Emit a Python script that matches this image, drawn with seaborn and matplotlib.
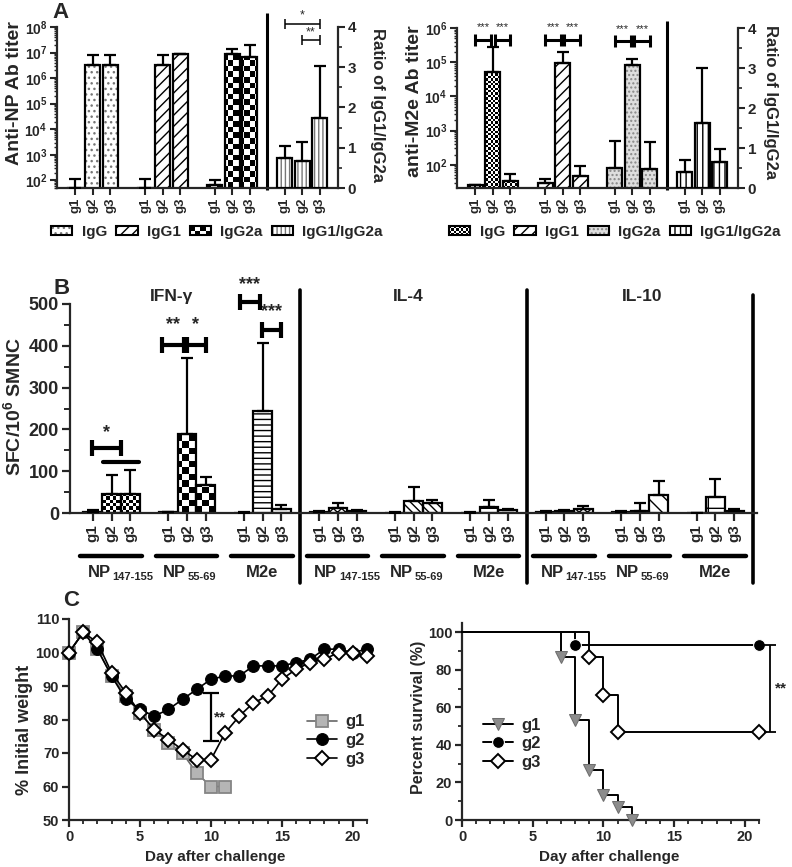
import numpy as np
import pandas as pd
import seaborn as sns
import matplotlib
matplotlib.use('Agg')
import matplotlib.pyplot as plt
from matplotlib.patches import Rectangle, Patch
from matplotlib.colors import ListedColormap
from matplotlib.legend_handler import HandlerBase
from matplotlib.ticker import MultipleLocator, LogLocator

# ---------------- data ----------------
groups = ['g1', 'g2', 'g3']

# A: anti-NP titers (IgG, IgG1, IgG2a x g1..g3) and IgG1/IgG2a ratio
np_pos = [0, 1, 2, 4, 5, 6, 8, 9, 10]
np_titer = [50, 3.4e6, 3.4e6, 50, 3.4e6, 9.1e6, 68, 9.0e6, 6.6e6]
np_titer_hi = [110, 8.2e6, 8.2e6, 110, 8.2e6, 9.1e6, 105, 1.4e7, 1.9e7]
ratio_pos = [12, 13, 14]
np_ratio = [0.75, 0.67, 1.75]
np_ratio_hi = [1.04, 1.15, 3.02]

# A: anti-M2e titers and ratio
m2e_titer = [26, 5.2e4, 33, 30, 9.5e4, 46, 80, 8.5e4, 77]
m2e_titer_hi = [26, 2.7e5, 55, 38, 1.95e5, 94, 500, 1.25e5, 480]
m2e_ratio = [0.41, 1.62, 0.65]
m2e_ratio_hi = [0.70, 3.0, 0.97]

# B: ELISPOT, 3 cytokines x 3 peptides x 3 groups
b_pos = list(range(0, 3)) + list(range(4, 7)) + list(range(8, 11)) + \
        list(range(12, 15)) + list(range(16, 19)) + list(range(20, 23)) + \
        list(range(24, 27)) + list(range(28, 31)) + list(range(32, 35))
sfc = [3, 46, 46, 2, 190, 68, 1, 245, 10,
       3, 11, 5, 1, 28, 24, 1, 15, 8,
       3, 5, 10, 3, 5, 44, 0, 38, 5]
sfc_hi = [7, 90, 103, 3, 372, 87, 2, 407, 18,
          5, 24, 7, 2, 63, 30, 2, 32, 10,
          5, 7, 17, 5, 25, 76, 0, 82, 10]
peptides = ['NP', 'NP', 'M2e'] * 3
peptide_sub = ['147-155', '55-69', ''] * 3
cytokines = ['IFN-γ', 'IL-4', 'IL-10']

# C: body weight (% initial) and survival
days = list(range(22))
w_g1 = [100, 106, 101, 93, 87, 82, 77, 73, 70, 64, 60, 60]
w_g2 = [100, 106, 101, 93, 86, 83, 81, 83, 86, 89, 92, 93, 93, 96, 96, 96, 97, 98, 101, 101, 100, 101]
w_g3 = [100, 106, 103, 94, 88, 82, 77, 74, 71, 68, 68, 76, 81, 85, 87, 92, 95, 97, 98, 100, 100, 99]
surv_g1_day = [0, 7, 8, 9, 10, 11, 12]
surv_g1 = [100, 86.7, 53.3, 26.7, 13.3, 6.7, 0]
surv_g2_day = [0, 8, 21]
surv_g2 = [100, 93.3, 93.3]
surv_g3_day = [0, 9, 10, 11, 21]
surv_g3 = [100, 86.7, 66.7, 46.7, 46.7]

# ---------------- style ----------------
sns.set_style("ticks")
plt.rcParams['font.family'] = ['Liberation Sans', 'DejaVu Sans']
plt.rcParams['font.weight'] = 'bold'
plt.rcParams['axes.labelweight'] = 'bold'
plt.rcParams['axes.linewidth'] = 1.6
plt.rcParams['hatch.linewidth'] = 1.0
plt.rcParams['mathtext.fontset'] = 'custom'
plt.rcParams['mathtext.rm'] = 'Liberation Sans:bold'
plt.rcParams['mathtext.bf'] = 'Liberation Sans:bold'
plt.rcParams['mathtext.it'] = 'Liberation Sans:bold'

W, H = 792, 867
fig = plt.figure(figsize=(W / 100, H / 100), dpi=100)


def box(l, t, r, b):
    return [l / W, 1 - b / H, (r - l) / W, (b - t) / H]


def checker(ax, patch, cell):
    bb = ax.get_position()
    nx = int(round(bb.width * W / cell))
    ny = int(round(bb.height * H / cell))
    c = np.add.outer(np.arange(ny), np.arange(nx)) % 2
    m = ax.pcolormesh(np.linspace(0, 1, nx + 1), np.linspace(0, 1, ny + 1), c,
                      cmap=ListedColormap(['white', 'black']), transform=ax.transAxes,
                      zorder=patch.get_zorder() + 0.1, antialiased=False)
    m.set_clip_path(patch)


def style(ax, patch, hatch=None, hc='black', face='white', cell=None, lw=1.6):
    patch.set_facecolor(face)
    patch.set_edgecolor(hc)
    patch.set_hatch(hatch)
    patch.set_linewidth(0)
    if cell:
        checker(ax, patch, cell)
    x, y = patch.get_xy()
    ax.add_patch(Rectangle((x, y), patch.get_width(), patch.get_height(), fill=False,
                           edgecolor='black', lw=lw, zorder=patch.get_zorder() + 0.2))


def errbars(ax, x, y, hi, cap=4, lw=1.6):
    y = np.asarray(y, float)
    hi = np.asarray(hi, float)
    ax.errorbar(x, y, yerr=[np.zeros_like(y), hi - y], fmt='none', ecolor='black',
                elinewidth=lw, capsize=cap, capthick=lw, zorder=3)


def hbracket(ax, x1, x2, y, lw, cap):
    ax.plot([x1, x2], [y, y], color='black', lw=lw, solid_capstyle='butt', clip_on=False, zorder=5)
    ax.plot([x1, x2], [y, y], ls='none', marker='|', ms=cap, mew=lw, color='black', clip_on=False, zorder=5)


def vbracket(ax, x, y1, y2, lw, cap):
    ax.plot([x, x], [y1, y2], color='black', lw=lw, solid_capstyle='butt', clip_on=False, zorder=5)
    ax.plot([x, x], [y1, y2], ls='none', marker='_', ms=cap, mew=lw, color='black', clip_on=False, zorder=5)


class Swatch(HandlerBase):
    def __init__(self, face='white', hatch=None, hc='black', cell=None):
        super().__init__()
        self.face, self.hatch, self.hc, self.cell = face, hatch, hc, cell

    def create_artists(self, legend, orig_handle, xd, yd, w, h, fontsize, trans):
        arts = [Rectangle((-xd, -yd), w, h, facecolor=self.face, edgecolor=self.hc,
                          hatch=self.hatch, lw=0, transform=trans)]
        if self.cell:
            nx = max(2, int(round(w / self.cell)))
            ny = max(2, int(round(h / self.cell)))
            for i in range(nx):
                for j in range(ny):
                    if (i + j) % 2:
                        arts.append(Rectangle((-xd + i * w / nx, -yd + j * h / ny), w / nx, h / ny,
                                              facecolor='black', lw=0, transform=trans))
        arts.append(Rectangle((-xd, -yd), w, h, fill=False, edgecolor='black', lw=1.5, transform=trans))
        return arts


def titer_panel(rect, titer, titer_hi, ratio, ratio_hi, ylim, styles, ylab, ylab_pos, rlab_pos, div_top):
    ax = fig.add_axes(box(*rect))
    sns.barplot(x=np_pos, y=titer, native_scale=True, width=0.86, color='white',
                edgecolor='black', errorbar=None, ax=ax)
    bars = list(ax.patches)
    ax.set_yscale('log')
    for p, s in zip(bars, styles[:9]):
        style(ax, p, **s)
    errbars(ax, np_pos, titer, titer_hi)
    ax2 = ax.twinx()
    sns.barplot(x=ratio_pos, y=ratio, native_scale=True, width=0.86, color='white',
                edgecolor='black', errorbar=None, ax=ax2)
    for p in list(ax2.patches):
        style(ax2, p, **styles[9])
    errbars(ax2, ratio_pos, ratio, ratio_hi)
    ax.set_xlim(-1.05, 15.05)
    ax.set_ylim(*ylim)
    ax.yaxis.set_major_locator(LogLocator(base=10, numticks=15))
    ax.yaxis.set_minor_locator(LogLocator(base=10, subs=np.arange(2, 10), numticks=15))
    ax2.set_ylim(0, 4)
    ax2.yaxis.set_major_locator(MultipleLocator(1))
    ax2.yaxis.set_minor_locator(MultipleLocator(0.5))
    ax.set_xticks(np_pos + ratio_pos)
    ax.set_xticklabels(groups * 4, rotation=90)
    for s in ['top', 'right']:
        ax.spines[s].set_visible(False)
    for s in ['top', 'left', 'bottom']:
        ax2.spines[s].set_visible(False)
    ax.tick_params(axis='y', which='major', length=5, width=1.5, labelsize=10, pad=2)
    ax.tick_params(axis='y', which='minor', length=2.5, width=1)
    ax.tick_params(axis='x', length=5, width=1.5, labelsize=9.5, pad=2)
    ax2.tick_params(axis='y', which='major', length=5, width=1.5, labelsize=11, pad=2)
    ax2.tick_params(axis='y', which='minor', length=3, width=1.2)
    ax.set_xlabel('')
    ax.set_ylabel(ylab, fontsize=14, va='center', ha='center')
    ax.yaxis.set_label_coords(*ylab_pos)
    ax2.set_xlabel('')
    ax2.set_ylabel('Ratio of IgG1/IgG2a', fontsize=12, rotation=270, va='center', ha='center')
    ax2.yaxis.set_label_coords(*rlab_pos)
    ax.plot([11, 11], [div_top, -0.012], transform=ax.get_xaxis_transform(), color='black',
            lw=2.2, clip_on=False, solid_capstyle='butt')
    return ax, ax2


# ---------------- Panel A, left (anti-NP) ----------------
np_styles = [dict(hatch='...', hc='#777777')] * 3 + [dict(hatch='///')] * 3 + \
            [dict(cell=5.5)] * 3 + [dict(hatch='||||', hc='#777777')]
axA, axA2 = titer_panel((57, 27, 338, 188), np_titer, np_titer_hi, np_ratio, np_ratio_hi,
                        (50, 1e8), np_styles, 'Anti-NP Ab titer', (-0.152, 0.59), (1.142, 0.515), 1.087)
hbracket(axA2, 12, 14, 4.08, lw=1.1, cap=7)
axA2.text(13, 4.13, '*', ha='center', va='bottom', fontsize=9, fontweight='normal')
hbracket(axA2, 13, 14, 3.67, lw=1.1, cap=7)
axA2.text(13.5, 3.72, '**', ha='center', va='bottom', fontsize=9, fontweight='normal')

legA = [Patch() for _ in range(4)]
fig.legend(legA, ['IgG', 'IgG1', 'IgG2a', 'IgG1/IgG2a'],
           handler_map={legA[0]: Swatch(hatch='...', hc='#777777'), legA[1]: Swatch(hatch='///'),
                        legA[2]: Swatch(cell=3.5), legA[3]: Swatch(hatch='||||', hc='#777777')},
           loc='center', bbox_to_anchor=(217 / W, 1 - 232 / H), ncol=4, frameon=False, fontsize=11,
           handlelength=1.4, handleheight=0.6, handletextpad=0.6, columnspacing=0.6, borderpad=0)

# ---------------- Panel A, right (anti-M2e) ----------------
m2e_styles = [dict(cell=2.4)] * 3 + [dict(hatch='///')] * 3 + \
             [dict(hatch='....', hc='#888888', face='#dedede')] * 3 + [dict(hatch='|||')]
axM, axM2 = titer_panel((457, 28, 738, 188), m2e_titer, m2e_titer_hi, m2e_ratio, m2e_ratio_hi,
                        (21, 1e6), m2e_styles, 'anti-M2e Ab titer', (-0.15, 0.54), (1.117, 0.54), 1.043)
for k, yb in zip([0, 4, 8], [4.5e5, 4.5e5, 4.1e5]):
    hbracket(axM, k, k + 0.9, yb, lw=2.2, cap=9)
    hbracket(axM, k + 1.1, k + 2.0, yb, lw=2.2, cap=9)
    axM.text(k + 0.45, yb * 2.3, '***', ha='center', va='center', fontsize=8, fontweight='normal')
    axM.text(k + 1.55, yb * 2.3, '***', ha='center', va='center', fontsize=8, fontweight='normal')

legM = [Patch() for _ in range(4)]
fig.legend(legM, ['IgG', 'IgG1', 'IgG2a', 'IgG1/IgG2a'],
           handler_map={legM[0]: Swatch(cell=1.8), legM[1]: Swatch(hatch='///'),
                        legM[2]: Swatch(hatch='....', hc='#888888', face='#dedede'),
                        legM[3]: Swatch(hatch='|||')},
           loc='center', bbox_to_anchor=(615 / W, 1 - 232 / H), ncol=4, frameon=False, fontsize=11,
           handlelength=1.4, handleheight=0.6, handletextpad=0.6, columnspacing=0.6, borderpad=0)

# ---------------- Panel B ----------------
axB = fig.add_axes(box(70, 304, 757, 513))
sns.barplot(x=b_pos, y=sfc, native_scale=True, width=1.0, color='white', edgecolor='black',
            errorbar=None, ax=axB)
b_group_style = [dict(cell=3.3), dict(cell=6.6), dict(hatch='---'),
                 dict(hatch='xxxx'), dict(hatch='\\\\\\\\'), dict(hatch='-'),
                 dict(hatch='xxxx'), dict(hatch='\\\\'), dict(hatch='+')]
for i, p in enumerate(list(axB.patches)):
    style(axB, p, **b_group_style[i // 3])
errbars(axB, b_pos, sfc, sfc_hi, cap=4, lw=1.6)
axB.set_xlim(-1.2, 35.2)
axB.set_ylim(0, 500)
axB.yaxis.set_major_locator(MultipleLocator(100))
axB.yaxis.set_minor_locator(MultipleLocator(50))
axB.set_xticks(b_pos)
axB.set_xticklabels(groups * 9, rotation=90)
for s in ['top', 'right']:
    axB.spines[s].set_visible(False)
axB.tick_params(axis='y', which='major', length=6, width=1.6, labelsize=13, pad=2)
axB.tick_params(axis='y', which='minor', length=4, width=1.4)
axB.tick_params(axis='x', length=6, width=1.6, labelsize=11, pad=2)
axB.set_xlabel('')
axB.set_ylabel('SFC/10$^6$ SMNC', fontsize=14, va='center', ha='center')
axB.yaxis.set_label_coords(-0.083, 0.51)
xt = axB.get_xaxis_transform()
for k in range(9):
    c = 4 * k + 1
    axB.plot([c - 1.65, c + 1.6], [-0.206, -0.206], transform=xt, color='black', lw=3.2,
             clip_on=False, solid_capstyle='round')
    if peptide_sub[k]:
        axB.text(c - 0.05, -0.287, peptides[k], transform=xt, ha='right', va='center', fontsize=12)
        axB.text(c + 0.05, -0.305, peptide_sub[k], transform=xt, ha='left', va='center', fontsize=8)
    else:
        axB.text(c, -0.287, peptides[k], transform=xt, ha='center', va='center', fontsize=12)
for xd, top in zip([11, 23, 35], [1.067, 1.067, 1.043]):
    axB.plot([xd, xd], [top, -0.335], transform=xt, color='black', lw=2.6, clip_on=False,
             solid_capstyle='round')
for name, xc in zip(cytokines, [4.2, 16.7, 29.1]):
    axB.text(xc, 1.035, name, transform=xt, ha='center', va='center', fontsize=12.5)
# significance marks
hbracket(axB, -0.05, 1.48, 155, lw=3, cap=12)
axB.text(0.74, 172, '*', ha='center', va='bottom', fontsize=13)
axB.plot([0.53, 2.44], [122, 122], color='black', lw=3, solid_capstyle='round')
hbracket(axB, 3.7, 4.85, 402, lw=3, cap=12)
hbracket(axB, 5.0, 6.0, 402, lw=3, cap=12)
axB.text(4.25, 430, '**', ha='center', va='bottom', fontsize=13)
axB.text(5.45, 430, '*', ha='center', va='bottom', fontsize=13)
hbracket(axB, 7.8, 8.85, 505, lw=3, cap=12)
axB.text(8.3, 525, '***', ha='center', va='bottom', fontsize=13)
hbracket(axB, 8.95, 10.0, 438, lw=3, cap=12)
axB.text(9.45, 462, '***', ha='center', va='bottom', fontsize=13)

# ---------------- Panel C, left (weight) ----------------
axC = fig.add_axes(box(69, 619, 367, 820))
sns.lineplot(x=days[:len(w_g1)], y=w_g1, ax=axC, color='#666666', lw=1.2, marker='s', ms=8,
             markerfacecolor='#b5b5b5', markeredgecolor='#858585', mew=1.3, label='g1',
             clip_on=False, zorder=3)
sns.lineplot(x=days, y=w_g2, ax=axC, color='black', lw=1.2, marker='o', ms=8.5,
             markerfacecolor='black', markeredgecolor='black', label='g2', clip_on=False, zorder=4)
sns.lineplot(x=days, y=w_g3, ax=axC, color='black', lw=1.2, marker='D', ms=7.5,
             markerfacecolor='white', markeredgecolor='black', mew=1.4, label='g3',
             clip_on=False, zorder=5)
axC.set_xlim(0, 21)
axC.set_ylim(50, 110)
axC.xaxis.set_major_locator(MultipleLocator(5))
axC.xaxis.set_minor_locator(MultipleLocator(1))
axC.yaxis.set_major_locator(MultipleLocator(10))
for s in ['top', 'right']:
    axC.spines[s].set_visible(False)
axC.tick_params(which='major', length=5, width=1.6, labelsize=10.5, pad=2)
axC.tick_params(which='minor', length=3, width=1.3)
axC.set_xlabel('Day after challenge', fontsize=11, va='center')
axC.xaxis.set_label_coords(0.49, -0.185)
axC.set_ylabel('% Initial weight', fontsize=13, va='center', ha='center')
axC.yaxis.set_label_coords(-0.148, 0.45)
vbracket(axC, 10, 73.5, 88, lw=1.6, cap=11)
axC.text(10.2, 80.5, '**', ha='left', va='center', fontsize=11)
axC.legend(loc='upper left', bbox_to_anchor=(238 / 298, 0.525), frameon=False,
           fontsize=12, handlelength=1.8, handletextpad=0.5, labelspacing=0.22, borderpad=0,
           borderaxespad=0)

# ---------------- Panel C, right (survival) ----------------
axS = fig.add_axes(box(462, 623, 759, 820))
sns.lineplot(x=surv_g1_day, y=surv_g1, ax=axS, color='black', lw=1.4, drawstyle='steps-post',
             marker='v', ms=8, markevery=list(range(1, 7)), markerfacecolor='#8c8c8c',
             markeredgecolor='#6e6e6e', label='g1', clip_on=False, zorder=3)
sns.lineplot(x=surv_g2_day, y=surv_g2, ax=axS, color='black', lw=1.4, drawstyle='steps-post',
             marker='o', ms=8.5, markevery=[1, 2], markerfacecolor='black', label='g2',
             clip_on=False, zorder=4)
sns.lineplot(x=surv_g3_day, y=surv_g3, ax=axS, color='black', lw=1.4, drawstyle='steps-post',
             marker='D', ms=7.5, markevery=[1, 2, 3, 4], markerfacecolor='white',
             markeredgecolor='black', mew=1.4, label='g3', clip_on=False, zorder=5)
axS.set_xlim(0, 21)
axS.set_ylim(0, 105)
axS.xaxis.set_major_locator(MultipleLocator(5))
axS.xaxis.set_minor_locator(MultipleLocator(1))
axS.yaxis.set_major_locator(MultipleLocator(20))
axS.yaxis.set_minor_locator(MultipleLocator(10))
for s in ['top', 'right']:
    axS.spines[s].set_visible(False)
axS.tick_params(which='major', length=5, width=1.6, labelsize=10.5, pad=2)
axS.tick_params(which='minor', length=3, width=1.3)
axS.set_xlabel('Day after challenge', fontsize=11, va='center')
axS.xaxis.set_label_coords(0.495, -0.188)
axS.set_ylabel('Percent survival (%)', fontsize=11.5, va='center', ha='center')
axS.yaxis.set_label_coords(-0.145, 0.52)
vbracket(axS, 21.75, 46.7, 93.3, lw=1.3, cap=9)
axS.text(22.1, 70, '**', ha='left', va='center', fontsize=11)
axS.legend(loc='upper left', bbox_to_anchor=(21 / 297, 0.52), frameon=False, fontsize=12,
           handlelength=1.8, handletextpad=0.5, labelspacing=0.22, borderpad=0, borderaxespad=0)

# ---------------- panel letters ----------------
for letter, (x, y) in zip('ABC', [(52, 12), (54, 289), (63, 601)]):
    fig.text(x / W, 1 - y / H, letter, fontsize=16, fontweight='bold', va='center', ha='left')

fig.savefig('out.png', dpi=100)
